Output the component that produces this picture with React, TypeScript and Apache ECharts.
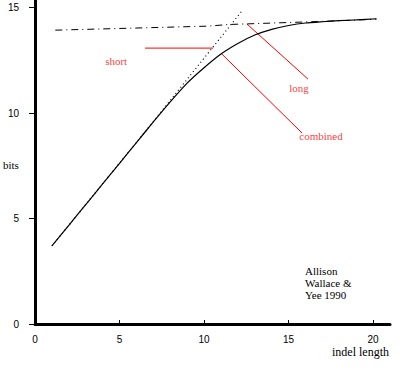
import React, { useEffect, useRef } from "react";
import * as echarts from "echarts";

// Combined curve (solid)
const combined: [number, number][] = [
  [1, 3.7], [2, 4.68], [3, 5.66], [4, 6.64], [5, 7.62], [6, 8.6], [7, 9.58],
  [8, 10.53], [9, 11.42], [10, 12.15], [11, 12.8], [12, 13.3], [13, 13.7],
  [14, 13.97], [15, 14.15], [16, 14.27], [17, 14.33], [18, 14.38],
  [19, 14.42], [20.2, 14.47],
];
// Short indel line (dotted)
const shortLine: [number, number][] = [
  [1, 3.7], [6.6, 9.2], [10.8, 13.4], [12.2, 14.8],
];
// Long indel line (dash-dot)
const longLine: [number, number][] = [
  [1.2, 13.93], [10.2, 14.12], [11.5, 14.2], [17.5, 14.36], [20.2, 14.45],
];
// Annotation pointers (data coords)
const shortPointer: [number, number][] = [[6.51, 13.08], [10.53, 13.08]];
const longPointer: [number, number][] = [[12.54, 14.22], [16.15, 11.61]];
const combinedPointer: [number, number][] = [[11.0, 12.84], [15.8, 9.05]];
const annotationLabels: [number, number, string][] = [
  [4.8, 12.46, "short"],
  [15.62, 11.18, "long"],
  [16.92, 8.91, "combined"],
];
const xTicks = [0, 5, 10, 15, 20];
const yTicks = [0, 5, 10, 15];
const citation = ["Allison", "Wallace &", "Yee 1990"];

const SERIF = "'Liberation Serif', 'DejaVu Serif', serif";
const SANS = "'Liberation Sans', 'DejaVu Sans', sans-serif";

export default function App() {
  const ref = useRef<HTMLDivElement>(null);
  useEffect(() => {
    if (!ref.current) return;
    const chart = echarts.init(ref.current, null, { renderer: "svg" });
    const pointer = (data: [number, number][]) => ({
      type: "line",
      data,
      symbol: "none",
      silent: true,
      lineStyle: { color: "#ff0000", width: 1 },
      z: 1,
    });
    chart.setOption({
      animation: false,
      backgroundColor: "#ffffff",
      grid: { left: 35, right: 10, top: 0, bottom: 56 },
      xAxis: {
        type: "value",
        min: 0,
        max: 21,
        interval: 5,
        axisLine: { show: true, lineStyle: { color: "#000", width: 3 } },
        axisTick: {
          show: true,
          inside: true,
          length: 4,
          lineStyle: { color: "#000", width: 1 },
          customValues: xTicks,
        },
        axisLabel: {
          color: "#000",
          fontFamily: SANS,
          fontSize: 10,
          margin: 10,
          customValues: xTicks,
        },
        splitLine: { show: false },
      },
      yAxis: {
        type: "value",
        min: 0,
        max: 15.36,
        interval: 5,
        axisLine: { show: true, lineStyle: { color: "#000", width: 3 } },
        axisTick: {
          show: true,
          inside: false,
          length: 6,
          lineStyle: { color: "#000", width: 1 },
          customValues: yTicks,
        },
        axisLabel: {
          color: "#000",
          fontFamily: SANS,
          fontSize: 10,
          margin: 16,
          customValues: yTicks,
        },
        splitLine: { show: false },
      },
      graphic: [
        {
          type: "text",
          left: 3,
          top: 159,
          style: { text: "bits", font: `11px ${SERIF}`, fill: "#000" },
        },
        {
          type: "text",
          left: 332,
          top: 346,
          style: { text: "indel length", font: `12px ${SERIF}`, fill: "#000" },
        },
        ...citation.map((line, i) => ({
          type: "text",
          left: 305,
          top: 265 + i * 12,
          style: {
            text: line,
            font: `11px ${SERIF}`,
            lineHeight: 11,
            fill: "#000",
          },
        })),
      ],
      series: [
        {
          type: "line",
          data: longLine,
          symbol: "none",
          lineStyle: { color: "#000", width: 1, type: [7, 4, 1, 4] },
          z: 2,
        },
        {
          type: "line",
          data: shortLine,
          symbol: "none",
          lineStyle: { color: "#000", width: 1.2, type: [1, 3] },
          z: 2,
        },
        {
          type: "line",
          data: combined,
          symbol: "none",
          smooth: 0.2,
          lineStyle: { color: "#000", width: 1.2 },
          z: 3,
        },
        pointer(shortPointer),
        pointer(longPointer),
        pointer(combinedPointer),
        {
          type: "scatter",
          data: annotationLabels,
          symbolSize: 1,
          itemStyle: { color: "rgba(0,0,0,0)" },
          silent: true,
          label: {
            show: true,
            position: "inside",
            formatter: (p: any) => p.data[2],
            color: "#ff0000",
            fontFamily: SERIF,
            fontSize: 11,
          },
        },
      ],
    });
    return () => chart.dispose();
  }, []);
  return (
    <div
      ref={ref}
      style={{ position: "fixed", left: 0, top: 0, width: 400, height: 380 }}
    />
  );
}
